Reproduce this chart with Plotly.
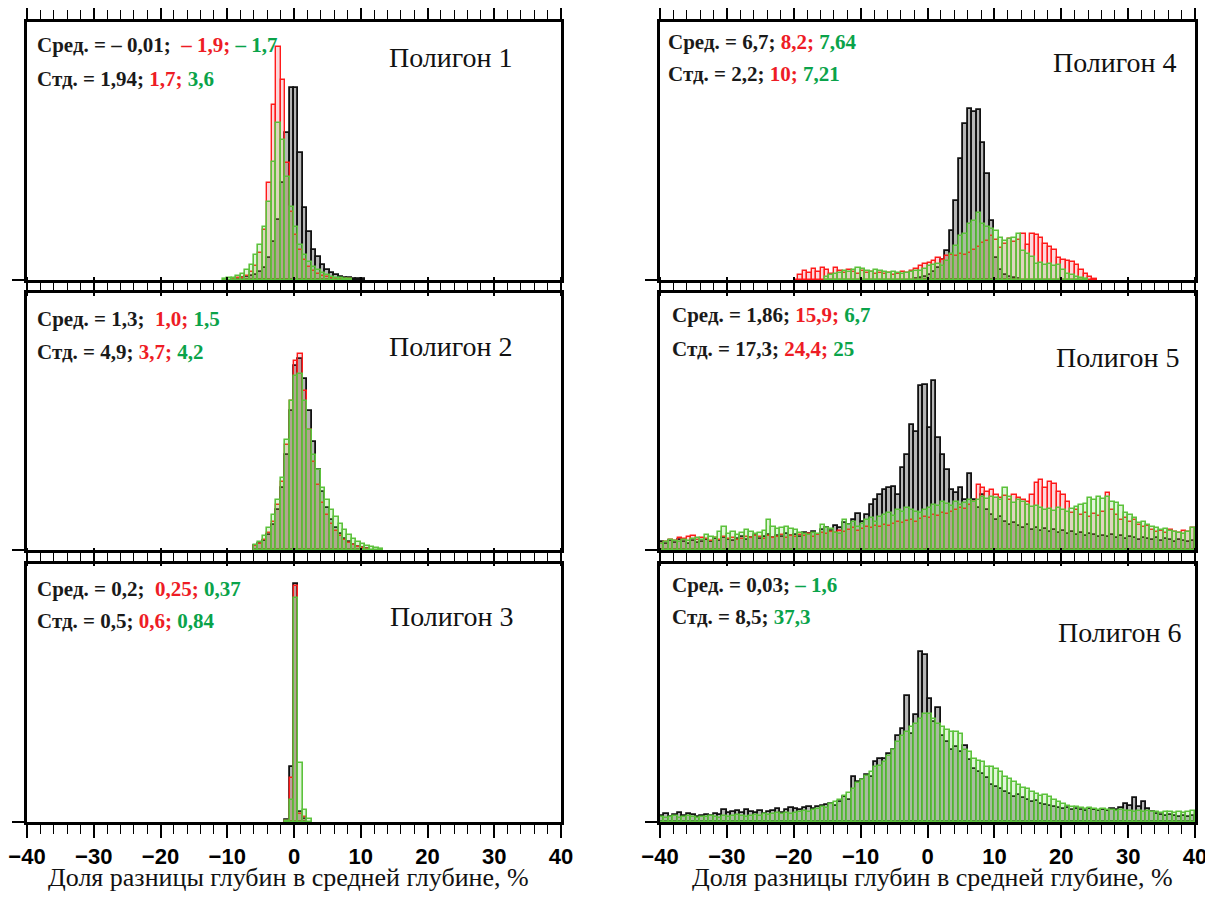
import plotly.graph_objects as go
from plotly.subplots import make_subplots

# ---------------- data (bar heights, arbitrary units) ----------------
BIN_W = 2 / 3  # bin width, % ; bin k spans [k*BIN_W, (k+1)*BIN_W]

# Polygon 1
P1_BLACK_START = -14
P1_BLACK = [1, 1, 2, 3, 4, 5, 8, 12, 22, 38, 60, 97, 147, 192, 192, 127, 72, 48, 30, 23,
            15, 10, 7, 5, 3, 2, 2, 1, 1, 1]
P1_RED_START = -14
P1_RED = [1, 2, 2, 4, 8, 14, 27, 50, 97, 175, 233, 200, 117, 68, 45, 30, 20, 13, 9, 6,
          4, 3, 2, 1, 1, 1, 1]
P1_GREEN_START = -16
P1_GREEN = [1, 2, 2, 4, 6, 10, 15, 25, 35, 53, 78, 118, 157, 140, 103, 73, 53, 35, 25, 18,
            13, 10, 7, 5, 3, 2, 2, 1, 1]

# Polygon 2
P2_BLACK_START = -9
P2_BLACK = [4, 6, 9, 15, 25, 40, 62, 95, 140, 185, 192, 172, 140, 108, 80, 58, 42, 30, 22, 16,
            11, 8, 5, 3, 2, 1]
P2_RED_START = -9
P2_RED = [4, 6, 10, 17, 28, 45, 68, 105, 150, 190, 197, 160, 120, 88, 65, 47, 35, 26, 19, 14,
          10, 7, 5, 3, 2, 1]
P2_GREEN_START = -9
P2_GREEN = [5, 8, 14, 22, 35, 50, 72, 110, 150, 175, 177, 150, 120, 95, 80, 62, 50, 40, 33, 26,
            20, 15, 11, 8, 6, 4, 3, 2, 1]

# Polygon 3
P3_BLACK_START = -2
P3_BLACK = [2, 55, 238, 10, 3]
P3_RED_START = -2
P3_RED = [1, 44, 236, 8, 5]
P3_GREEN_START = -2
P3_GREEN = [1, 22, 224, 59, 12, 3]

# Polygon 4
P4_BLACK_START = -3
P4_BLACK = [1, 2, 3, 5, 8, 12, 20, 29, 49, 79, 121, 156, 171, 168, 170, 137, 106, 59, 22, 10,
            5, 3, 2, 1]
P4_RED_START = -30
P4_RED = [0, 5, 9, 7, 11, 8, 12, 10, 6, 12,
          9, 7, 10, 8, 6, 9, 7, 8, 6, 7,
          6, 7, 5, 6, 8, 7, 9, 11, 14, 16,
          17, 19, 22, 20, 24, 25, 24, 26, 25, 27,
          30, 33, 37, 39, 44, 40, 32, 36, 41, 38,
          40, 46, 35, 46, 45, 42, 36, 33, 30, 22,
          20, 19, 18, 15, 10, 6, 3, 1]
P4_GREEN_START = -23
P4_GREEN = [3, 5, 6, 7, 9, 8, 10, 12, 11, 9,
            8, 10, 9, 8, 7, 8, 7, 6, 7, 8,
            9, 9, 11, 14, 15, 16, 14, 19, 26, 34,
            44, 46, 56, 59, 67, 56, 53, 51, 49, 42,
            39, 41, 42, 46, 29, 26, 23, 16, 17, 15,
            16, 14, 15, 10, 6, 5, 3, 2, 1]

# Polygon 5 (120 bins from -40 to 40)
P5_START = -60
P5_BLACK = [8, 6, 9, 7, 10, 8, 6, 9, 7, 8,
            10, 8, 11, 9, 12, 10, 9, 11, 13, 10,
            12, 14, 11, 13, 15, 12, 14, 13, 16, 14,
            15, 13, 17, 16, 18, 15, 20, 22, 19, 24,
            22, 27, 25, 30, 36, 28, 35, 45, 50, 55,
            60, 62, 63, 55, 82, 95, 125, 118, 165, 166,
            122, 170, 112, 95, 80, 60, 57, 62, 50, 76,
            50, 42, 55, 40, 35, 30, 33, 28, 25, 27,
            24, 22, 25, 20, 22, 19, 21, 18, 20, 17,
            19, 16, 18, 15, 17, 14, 16, 15, 13, 14,
            13, 15, 12, 14, 11, 13, 12, 10, 12, 11,
            10, 12, 9, 11, 10, 8, 10, 9, 8, 9]
P5_RED = [6, 8, 10, 9, 12, 11, 13, 14, 10, 12,
          11, 9, 12, 10, 13, 11, 12, 10, 11, 13,
          12, 14, 13, 11, 14, 12, 13, 15, 12, 14,
          13, 15, 14, 16, 13, 15, 17, 16, 18, 17,
          19, 18, 20, 22, 19, 21, 23, 22, 24, 23,
          25, 24, 26, 28, 27, 29, 30, 28, 31, 33,
          32, 35, 34, 37, 36, 38, 40, 42, 41, 45,
          48, 65, 62, 58, 60, 55, 52, 54, 50, 55,
          52, 50, 48, 55, 67, 70, 62, 68, 66, 58,
          55, 48, 37, 40, 35, 37, 33, 36, 34, 38,
          57, 40, 35, 30, 32, 28, 30, 25, 23, 24,
          20, 18, 19, 17, 20, 18, 17, 19, 18, 22]
P5_GREEN = [6, 8, 10, 9, 8, 10, 9, 11, 12, 10,
            15, 13, 12, 18, 23, 16, 18, 15, 17, 20,
            18, 16, 17, 19, 30, 23, 21, 22, 23, 21,
            20, 17, 16, 15, 17, 16, 25, 22, 21, 17,
            16, 30, 25, 28, 23, 26, 30, 32, 28, 33,
            35, 37, 34, 40, 38, 42, 40, 38, 37, 40,
            42, 45, 44, 48, 46, 44, 48, 45, 47, 50,
            48, 50, 53, 51, 53, 52, 50, 62, 53, 47,
            50, 48, 45, 43, 44, 42, 40, 41, 39, 42,
            40, 38, 41, 43, 45, 46, 52, 50, 53, 51,
            53, 48, 47, 44, 37, 35, 32, 27, 28, 25,
            23, 22, 20, 21, 19, 18, 17, 16, 18, 22]

# Polygon 6 (120 bins from -40 to 40)
P6_START = -60
P6_BLACK = [6, 8, 5, 7, 9, 6, 8, 7, 5, 6,
            7, 6, 8, 7, 12, 9, 10, 11, 9, 12,
            10, 9, 11, 8, 10, 11, 13, 9, 12, 14,
            13, 12, 14, 15, 13, 15, 16, 17, 18, 16,
            20, 25, 22, 45, 40, 42, 47, 45, 60, 63,
            63, 68, 72, 86, 93, 126, 88, 107, 170, 167,
            123, 100, 114, 86, 80, 72, 75, 70, 76, 62,
            53, 50, 48, 44, 37, 35, 33, 30, 28, 25,
            27, 24, 22, 20, 21, 18, 17, 16, 15, 14,
            13, 14, 12, 13, 12, 11, 13, 12, 11, 12,
            11, 13, 12, 14, 18, 16, 24, 15, 20, 13,
            10, 8, 7, 6, 7, 6, 5, 6, 5, 6]
P6_GREEN = [5, 4, 5, 6, 4, 5, 6, 5, 4, 5,
            5, 6, 5, 4, 6, 5, 6, 7, 6, 5,
            6, 7, 6, 8, 7, 8, 9, 8, 9, 8,
            9, 10, 11, 10, 12, 13, 15, 14, 18, 20,
            22, 26, 29, 33, 39, 42, 46, 50, 55, 56,
            60, 66, 72, 80, 86, 90, 95, 98, 103, 108,
            108, 103, 98, 95, 92, 90, 90, 88, 72, 70,
            63, 61, 60, 55, 55, 53, 50, 45, 43, 40,
            37, 34, 33, 30, 28, 26, 27, 25, 22, 20,
            18, 16, 15, 15, 14, 13, 14, 13, 12, 13,
            12, 12, 11, 12, 11, 11, 10, 11, 10, 11,
            10, 10, 9, 10, 10, 9, 10, 9, 10, 11]

TICK_VALUES = [-40, -30, -20, -10, 0, 10, 20, 30, 40]
X_TITLE = "Доля разницы глубин в средней глубине, %"

PANELS = [
    (1, 1, "Полигон 1",
     [(P1_BLACK_START, P1_BLACK, "k"), (P1_RED_START, P1_RED, "r"), (P1_GREEN_START, P1_GREEN, "g")],
     ["Сред. = – 0,01;", "\u00a0 – 1,9;", " – 1,7"], ["Стд. = 1,94;", " 1,7;", " 3,6"]),
    (2, 1, "Полигон 2",
     [(P2_BLACK_START, P2_BLACK, "k"), (P2_RED_START, P2_RED, "r"), (P2_GREEN_START, P2_GREEN, "g")],
     ["Сред. = 1,3;", "\u00a0 1,0;", " 1,5"], ["Стд. = 4,9;", " 3,7;", " 4,2"]),
    (3, 1, "Полигон 3",
     [(P3_BLACK_START, P3_BLACK, "k"), (P3_RED_START, P3_RED, "r"), (P3_GREEN_START, P3_GREEN, "g")],
     ["Сред. = 0,2;", "\u00a0 0,25;", " 0,37"], ["Стд. = 0,5;", " 0,6;", " 0,84"]),
    (1, 2, "Полигон 4",
     [(P4_BLACK_START, P4_BLACK, "k"), (P4_RED_START, P4_RED, "r"), (P4_GREEN_START, P4_GREEN, "g")],
     ["Сред. = 6,7;", " 8,2;", " 7,64"], ["Стд. = 2,2;", " 10;", " 7,21"]),
    (2, 2, "Полигон 5",
     [(P5_START, P5_BLACK, "k"), (P5_START, P5_RED, "r"), (P5_START, P5_GREEN, "g")],
     ["Сред. = 1,86;", " 15,9;", " 6,7"], ["Стд. = 17,3;", " 24,4;", " 25"]),
    (3, 2, "Полигон 6",
     [(P6_START, P6_BLACK, "k"), (P6_START, P6_GREEN, "g")],
     ["Сред. = 0,03;", "", " – 1,6"], ["Стд. = 8,5;", "", " 37,3"]),
]

# ---------------- styling ----------------
W, H = 1213, 900          # page size
OFF = 8                   # page body margin
FW, FH = W - 2 * OFF, H - 2 * OFF
STYLE = {
    "k": dict(fill="rgba(40,40,40,0.34)", line="#111111", lw=1.8),
    "r": dict(fill="rgba(240,40,60,0.18)", line="#ff1a1a", lw=1.4),
    "g": dict(fill="rgba(120,205,80,0.22)", line="#5cc23c", lw=1.6),
}
TXT_RED = "#ee1c25"
TXT_GREEN = "#0aa34a"
COL_X = {1: (27, 561), 2: (660, 1195)}
ROW_Y = {1: (22, 280), 2: (293, 550), 3: (564, 822)}
STAT_POS = {  # (x, y line1, y line2) pixel in page
    (1, 1): (35, 45, 79), (2, 1): (35, 319, 352), (3, 1): (35, 589, 621),
    (1, 2): (666, 42, 74), (2, 2): (670, 315, 349), (3, 2): (670, 585, 617),
}
NAME_POS = {
    (1, 1): (451, 57), (2, 1): (451, 346), (3, 1): (452, 616),
    (1, 2): (1115, 62), (2, 2): (1118, 358), (3, 2): (1120, 632),
}


def px(x):
    return (x - OFF) / FW


def py(y):
    return 1 - (y - OFF) / FH


fig = make_subplots(rows=3, cols=2)

for row, col, name, series, mean_t, std_t in PANELS:
    for start, vals, key in series:
        st = STYLE[key]
        xs = [(start + i + 0.5) * BIN_W for i in range(len(vals))]
        fig.add_trace(go.Bar(x=xs, y=vals, width=BIN_W,
                             marker=dict(color=st["fill"], line=dict(color=st["line"], width=st["lw"])),
                             showlegend=False, hoverinfo="skip"), row=row, col=col)

    sx, sy1, sy2 = STAT_POS[(row, col)]
    for txt, yy in ((mean_t, sy1), (std_t, sy2)):
        s = "<b>" + txt[0]
        if txt[1]:
            s += f'<span style="color:{TXT_RED}">{txt[1]}</span>'
        s += f'<span style="color:{TXT_GREEN}">{txt[2]}</span></b>'
        fig.add_annotation(x=px(sx), y=py(yy), xref="paper", yref="paper", text=s,
                           showarrow=False, xanchor="left", yanchor="middle",
                           font=dict(family="Liberation Serif", size=21, color="#1a1a1a"))
    nx, ny = NAME_POS[(row, col)]
    fig.add_annotation(x=px(nx), y=py(ny), xref="paper", yref="paper", text=name,
                       showarrow=False, xanchor="center", yanchor="middle",
                       font=dict(family="Liberation Serif", size=28, color="#111111"))

    x0, x1 = COL_X[col]
    y0, y1 = ROW_Y[row]
    fig.update_xaxes(row=row, col=col, domain=[px(x0), px(x1)], range=[-40, 40],
                     showline=True, linewidth=3, linecolor="black", mirror="ticks",
                     ticks="outside", tickvals=TICK_VALUES, ticklen=13, tickwidth=1.6, tickcolor="black",
                     minor=dict(dtick=2, tick0=0, ticks="outside", ticklen=9, tickwidth=1.2, tickcolor="black"),
                     showgrid=False, zeroline=False, automargin=False,
                     showticklabels=(row == 3), ticklabeloverflow="allow",
                     tickfont=dict(family="Liberation Sans", size=22, color="black", weight="bold"))
    fig.update_yaxes(row=row, col=col, domain=[py(y1), py(y0)], range=[0, 258],
                     showline=True, linewidth=3, linecolor="black", mirror=True,
                     ticks="outside", tickvals=[0], ticklen=12, tickwidth=1.6, tickcolor="black",
                     showticklabels=False, showgrid=False, zeroline=False, automargin=False)

for cx in (288, 932):
    fig.add_annotation(x=px(cx), y=py(877), xref="paper", yref="paper", text=X_TITLE,
                       showarrow=False, xanchor="center", yanchor="middle",
                       font=dict(family="Liberation Serif", size=26, color="#111111"))

fig.update_layout(width=FW, height=FH, margin=dict(l=0, r=0, t=0, b=0),
                  paper_bgcolor="white", plot_bgcolor="white",
                  barmode="overlay", bargap=0, showlegend=False)

fig.write_html("out.html")
